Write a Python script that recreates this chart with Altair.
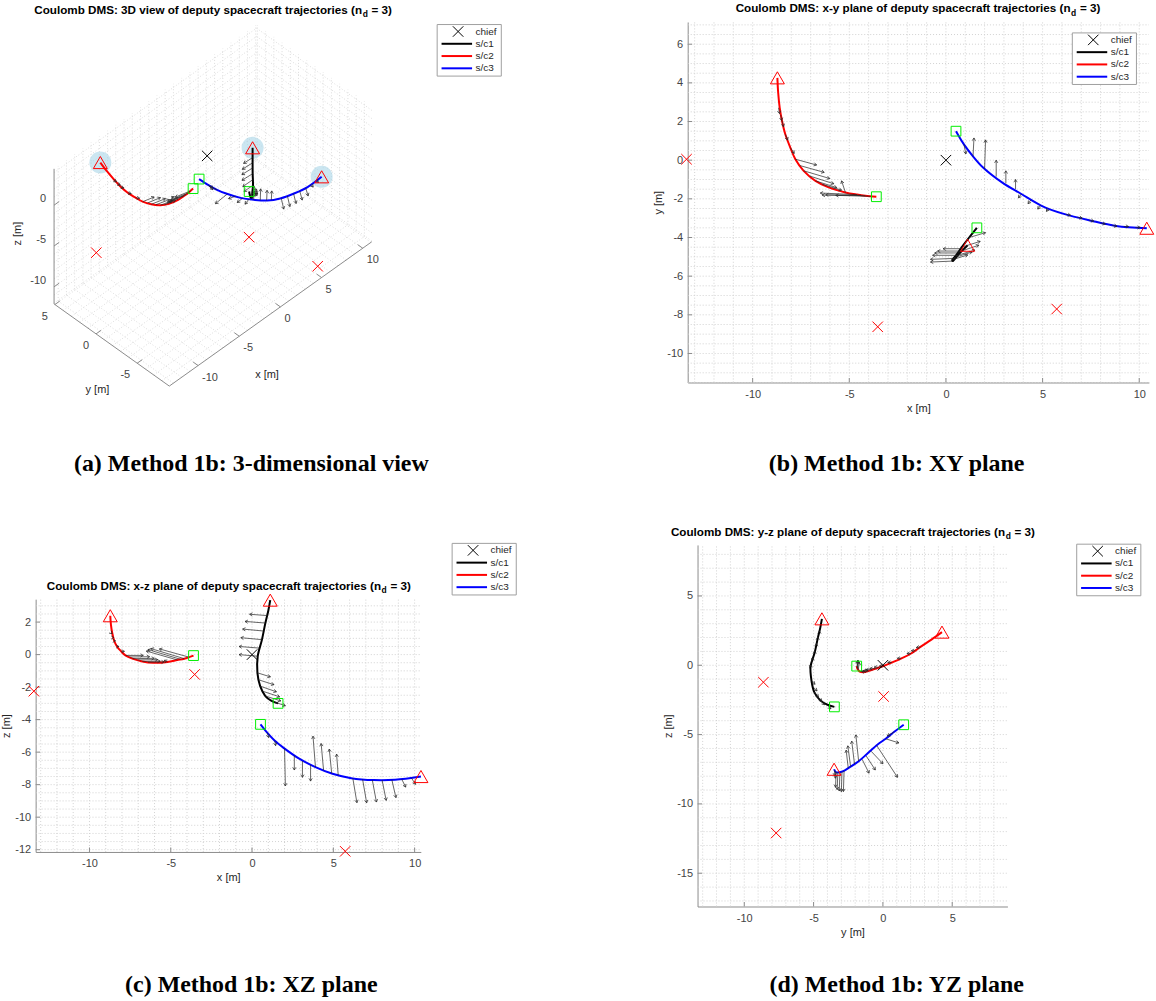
import math
import altair as alt
import pandas as pd

SANS = "Liberation Sans"
SERIF = "Liberation Serif"
INK = "#262626"
LABEL_INK = "#444444"
AXIS_INK = "#8c8c8c"
GRID_INK = "#d2d2d2"
GRID3_INK = "#dcdcdc"
ARROW_INK = "#262626"

# ---------------------------------------------------------------- data
SC_NAMES = ["s/c1", "s/c2", "s/c3"]
SC_COLORS = ["#000000", "#ff0000", "#0000ff"]

# deputy trajectories [m]: initial position first, final position last
SC1_X = [1.60, 1.20, 0.82, 0.50, 0.33, 0.35, 0.61, 0.82, 1.00, 1.12]
SC1_Y = [-3.50, -4.00, -4.50, -4.95, -5.15, -5.22, -4.92, -4.70, -4.52, -4.40]
SC1_Z = [-3.00, -2.85, -2.55, -1.94, -1.12, -0.10, 0.92, 1.94, 2.70, 3.35]

SC2_X = [-3.60, -4.17, -4.60, -5.20, -6.07, -6.75, -7.36, -7.79, -8.05, -8.31, -8.48, -8.60, -8.68, -8.72]
SC2_Y = [-1.89, -1.84, -1.78, -1.67, -1.41, -1.07, -0.55, 0.05, 0.65, 1.34, 2.03, 2.71, 3.50, 4.26]
SC2_Z = [-0.06, -0.25, -0.33, -0.45, -0.50, -0.42, -0.25, -0.05, 0.20, 0.50, 0.85, 1.33, 1.85, 2.39]

SC3_X = [0.52, 0.93, 1.40, 1.92, 2.90, 3.90, 4.95, 6.10, 7.50, 8.80, 10.39]
SC3_Y = [1.50, 0.82, 0.20, -0.38, -1.15, -1.75, -2.36, -2.78, -3.13, -3.40, -3.52]
SC3_Z = [-4.29, -4.80, -5.30, -5.72, -6.40, -6.92, -7.33, -7.60, -7.72, -7.70, -7.50]

# target positions (red crosses) and the chief at the origin [m]
TGT_X = [-13.42, -3.53, 5.73]
TGT_Y = [0.05, -8.62, -7.70]
TGT_Z = [-2.25, -1.22, -12.10]
CHIEF_X, CHIEF_Y, CHIEF_Z = [0.0], [0.0], [0.0]

# control quiver: deputy index, base point and vector [m]
Q_SC = [0] * 12 + [1] * 16 + [2] * 17
Q_X = [0.35, 0.45, 0.61, 0.72, 0.82, 0.95, 0.33, 0.40, 0.50, 0.65, 0.82, 1.20,
       -8.66, -8.55, -8.48, -8.31, -8.05, -7.79, -7.55, -7.36, -7.05, -6.75, -6.40, -5.20, -4.60, -4.40, -4.17, -3.90,
       0.93, 1.40, 2.00, 2.60, 3.10, 3.60, 3.90, 4.40, 4.90, 5.30, 6.20, 6.80, 7.40, 8.00, 8.60, 9.20, 9.80]
Q_Y = [-5.22, -5.08, -4.92, -4.80, -4.70, -4.58, -5.15, -5.05, -4.95, -4.75, -4.50, -4.00,
       2.71, 2.35, 2.03, 1.34, 0.65, 0.05, -0.28, -0.55, -0.82, -1.07, -1.25, -1.67, -1.78, -1.81, -1.84, -1.87,
       0.82, 0.20, -0.45, -0.85, -1.20, -1.50, -1.75, -2.05, -2.33, -2.50, -2.80, -2.95, -3.10, -3.25, -3.37, -3.43, -3.48]
Q_Z = [-0.10, 0.40, 0.92, 1.45, 1.94, 2.40, -1.12, -1.55, -1.94, -2.25, -2.55, -2.85,
       1.33, 1.05, 0.85, 0.50, 0.20, -0.05, -0.15, -0.25, -0.33, -0.42, -0.47, -0.45, -0.33, -0.29, -0.25, -0.15,
       -4.80, -5.30, -5.78, -6.20, -6.55, -6.78, -6.92, -7.12, -7.31, -7.42, -7.61, -7.67, -7.72, -7.72, -7.70, -7.65, -7.58]
Q_DX = [-1.15, -1.25, -1.30, -1.30, -1.25, -1.10, 0.80, 0.95, 1.00, 1.05, 0.95, 0.85,
        0.05, 0.05, 0.08, 0.12, 0.20, 1.10, 1.25, 1.35, 1.25, 1.10, 1.00, -0.20, -1.90, -2.00, -2.05, -1.80,
        0.10, 0.05, 0.05, 0.00, 0.00, 0.00, -0.15, -0.15, -0.15, -0.10, 0.25, 0.25, 0.25, 0.25, 0.25, 0.25, 0.25]
Q_DY = [-0.05, -0.05, 0.00, 0.00, 0.00, 0.00, 0.25, 0.30, 0.30, 0.35, 0.30, 0.25,
        -0.30, -0.30, -0.30, -0.30, -0.30, -0.30, -0.35, -0.40, -0.40, -0.35, -0.30, 0.60, 0.08, 0.00, 0.05, 0.05,
        -0.50, 0.95, 1.50, 0.85, 0.65, 0.50, -0.20, -0.20, -0.20, -0.15, -0.05, -0.05, -0.05, -0.05, -0.05, 0.00, 0.00]
Q_DZ = [0.10, 0.10, 0.12, 0.12, 0.10, 0.08, -0.25, -0.30, -0.35, -0.35, -0.30, -0.30,
        -0.05, 0.00, 0.00, 0.00, 0.00, 0.00, 0.02, 0.02, 0.02, 0.02, 0.02, 0.10, 0.55, 0.60, 0.62, 0.50,
        -0.30, -0.30, -2.30, -0.90, -1.00, -1.00, 1.90, 1.65, 1.50, 1.30, -1.50, -1.45, -1.35, -1.25, -1.10, -0.50, -0.40]

# 3-D view box limits and tick values [m]
BOX_X = (-13.5, 11.1)
BOX_Y = (-8.9, 5.1)
BOX_Z = (-12.1, 4.45)
X3_TICKS = [-10, -5, 0, 5, 10]
Y3_TICKS = [-5, 0, 5]
Z3_TICKS = [-10, -5, 0]

LEGEND_LABELS = ["chief"] + SC_NAMES

# ---------------------------------------------------------------- tables
rows = []
for name, xs, ys, zs in zip(SC_NAMES, [SC1_X, SC2_X, SC3_X], [SC1_Y, SC2_Y, SC3_Y], [SC1_Z, SC2_Z, SC3_Z]):
    for i, (x, y, z) in enumerate(zip(xs, ys, zs)):
        rows.append({"sc": name, "i": i, "x": x, "y": y, "z": z})
traj = pd.DataFrame(rows)
starts = traj.groupby("sc").head(1).reset_index(drop=True)
ends = traj.groupby("sc").tail(1).reset_index(drop=True)
targets = pd.DataFrame({"x": TGT_X, "y": TGT_Y, "z": TGT_Z})
chief = pd.DataFrame({"x": CHIEF_X, "y": CHIEF_Y, "z": CHIEF_Z})
quiv = pd.DataFrame({"sc": [SC_NAMES[k] for k in Q_SC], "x": Q_X, "y": Q_Y, "z": Q_Z,
                     "dx": Q_DX, "dy": Q_DY, "dz": Q_DZ})
one = pd.DataFrame({"k": [0]})

SC_SCALE = alt.Scale(domain=SC_NAMES, range=SC_COLORS)
X_PATH = "M-1,-1L1,1M1,-1L-1,1"
HEAD_PATH = "M-0.6,1L0,0L0.6,1"
MINUS = "\u2212"
TICK_PX = 4.5   # inward tick length


def steps(lo, hi, step):
    k0, k1 = math.ceil(lo / step - 1e-9), math.floor(hi / step + 1e-9)
    return [round(k * step, 6) for k in range(k0, k1 + 1)]


# ---------------------------------------------------------------- shared decorations
LEG_ROWS = [7.0, 19.3, 31.6, 43.9]


def legend_layers(x0, y0):
    out = [alt.Chart(one).mark_rect(fill="white", stroke="#a0a0a0", strokeWidth=1).encode(
        x=alt.value(x0), x2=alt.value(x0 + 64.3), y=alt.value(y0), y2=alt.value(y0 + 51.7))]
    out.append(alt.Chart(one).mark_point(shape=X_PATH, size=110, color="#000000", strokeWidth=1,
                                         opacity=1).encode(x=alt.value(x0 + 21), y=alt.value(y0 + LEG_ROWS[0])))
    for col, ry in zip(SC_COLORS, LEG_ROWS[1:]):
        out.append(alt.Chart(one).mark_rule(color=col, strokeWidth=2).encode(
            x=alt.value(x0 + 4.4), x2=alt.value(x0 + 35), y=alt.value(y0 + ry)))
    for label, ry in zip(LEGEND_LABELS, LEG_ROWS):
        out.append(alt.Chart(one).mark_text(text=label, align="left", baseline="middle", font=SANS,
                                            fontSize=10, color=INK).encode(
            x=alt.value(x0 + 38.5), y=alt.value(y0 + ry)))
    return out


def title_layers(prefix, ax, base):
    style = dict(baseline="alphabetic", font=SANS, fontWeight="bold", color="#000000")
    return [
        alt.Chart(one).mark_text(text=prefix + " (n", align="right", fontSize=11.7, **style).encode(
            x=alt.value(ax), y=alt.value(base)),
        alt.Chart(one).mark_text(text="d", align="left", fontSize=8.5, **style).encode(
            x=alt.value(ax + 0.6), y=alt.value(base + 3.5)),
        alt.Chart(one).mark_text(text="= 3)", align="left", fontSize=11.7, **style).encode(
            x=alt.value(ax + 9.5), y=alt.value(base)),
    ]


def caption_layer(text, cx, cy):
    return alt.Chart(one).mark_text(text=text, align="center", baseline="alphabetic", font=SERIF,
                                    fontSize=24, fontWeight="bold", color="#000000").encode(
        x=alt.value(cx), y=alt.value(cy))


# ---------------------------------------------------------------- planar views
def plane_panel(h, v, hdom, vdom, h0px, v0px, k, size, hticks, vticks, hstep, vstep,
                htitle, vtitle, head, title_at, legend_at, caption, caption_at):
    tile_w, tile_h = size
    hpx = [h0px + k * hdom[0], h0px + k * hdom[1]]
    vpx = [v0px - k * vdom[0], v0px - k * vdom[1]]
    hs = alt.Scale(domain=list(hdom), range=hpx, nice=False, zero=False)
    vs = alt.Scale(domain=list(vdom), range=vpx, nice=False, zero=False)
    common = dict(grid=False, ticks=False, domainColor=AXIS_INK, domainWidth=1,
                  labelColor=LABEL_INK, labelFont=SANS, labelFontSize=11, labelFlush=False,
                  labelOverlap=False, titleColor=INK, titleFont=SANS, titleFontSize=11,
                  titleFontWeight="normal", labelExpr=f"replace(datum.label, '{MINUS}', '-')")
    hax = alt.Axis(title=htitle, values=hticks, offset=vpx[0] - tile_h, labelPadding=6,
                   titlePadding=3, **common)
    vax = alt.Axis(title=vtitle, values=vticks, offset=-hpx[0], labelPadding=5,
                   titlePadding=3, **common)

    # every positional layer carries the same axis definition so the layers share one axis
    def H(f):
        return alt.X(f, type="quantitative", scale=hs, axis=hax)

    def V(f):
        return alt.Y(f, type="quantitative", scale=vs, axis=vax)

    gv = pd.DataFrame({"p": steps(hdom[0], hdom[1], hstep)})
    gv["lo"], gv["hi"] = vdom[0], vdom[1]
    gh = pd.DataFrame({"p": steps(vdom[0], vdom[1], vstep)})
    gh["lo"], gh["hi"] = hdom[0], hdom[1]
    grid_style = dict(color=GRID_INK, strokeDash=[1, 2], strokeWidth=1)

    # short inward tick marks along the two axis lines
    th = pd.DataFrame({"p": hticks})
    th["lo"], th["hi"] = vdom[0], vdom[0] + TICK_PX / k
    tv = pd.DataFrame({"p": vticks})
    tv["lo"], tv["hi"] = hdom[0], hdom[0] + TICK_PX / k

    layers = [
        alt.Chart(gv).mark_rule(**grid_style).encode(x=H("p"), y=V("lo"), y2="hi"),
        alt.Chart(gh).mark_rule(**grid_style).encode(y=V("p"), x=H("lo"), x2="hi"),
        alt.Chart(th).mark_rule(color=AXIS_INK, strokeWidth=1).encode(x=H("p"), y=V("lo"), y2="hi"),
        alt.Chart(tv).mark_rule(color=AXIS_INK, strokeWidth=1).encode(y=V("p"), x=H("lo"), x2="hi"),
        alt.Chart(traj).mark_line(strokeWidth=2, interpolate="catmull-rom").encode(
            x=H(h), y=V(v), color=alt.Color("sc:N", scale=SC_SCALE, legend=None), order="i:Q"),
    ]
    qv = alt.Chart(quiv).transform_calculate(
        th=f"datum.{h} + datum.d{h}", tv=f"datum.{v} + datum.d{v}",
        ang=f"(atan2(datum.d{h}, datum.d{v}) * 180 / PI + 360) % 360")
    layers += [
        qv.mark_rule(color=ARROW_INK, strokeWidth=0.7).encode(x=H(h), y=V(v), x2="th", y2="tv"),
        qv.mark_point(shape=HEAD_PATH, size=30, color=ARROW_INK, strokeWidth=0.7, opacity=1).encode(
            x=H("th"), y=V("tv"), angle=alt.Angle("ang:Q", scale=None)),
        alt.Chart(ends).mark_point(shape="triangle-up", size=196, color="#ff0000", strokeWidth=1,
                                   opacity=1).encode(x=H(h), y=V(v)),
        alt.Chart(starts).mark_point(shape="square", size=96, color="#00ee00", strokeWidth=1,
                                     opacity=1).encode(x=H(h), y=V(v)),
        alt.Chart(targets).mark_point(shape=X_PATH, size=110, color="#ff0000", strokeWidth=1,
                                      opacity=1).encode(x=H(h), y=V(v)),
        alt.Chart(chief).mark_point(shape=X_PATH, size=110, color="#000000", strokeWidth=1,
                                    opacity=1).encode(x=H(h), y=V(v)),
    ]
    layers += legend_layers(*legend_at)
    layers += title_layers(head, *title_at)
    layers.append(caption_layer(caption, *caption_at))
    return alt.layer(*layers).properties(width=tile_w, height=tile_h)


# ---------------------------------------------------------------- 3-D view
AZ, EL = -45.0, 45.46
CA, SA = math.cos(math.radians(AZ)), math.sin(math.radians(AZ))
SE, CE = math.sin(math.radians(EL)), math.cos(math.radians(EL))
K3 = 11.67             # pixels per metre in the projected view
O3 = (206.7, 155.0)    # where the origin sits in the panel


def proj(xf, yf, zf):
    u = f"({xf})*{CA:.6f} + ({yf})*{SA:.6f}"
    w = f"(-({xf})*{SA:.6f} + ({yf})*{CA:.6f})*{SE:.6f} + ({zf})*{CE:.6f}"
    return u, w


def box_grid():
    (x0, x1), (y0, y1), (z0, z1) = BOX_X, BOX_Y, BOX_Z
    segs = []
    for xv in steps(x0, x1, 1):
        segs.append((xv, y0, z0, xv, y1, z0))
        segs.append((xv, y1, z0, xv, y1, z1))
    for yv in steps(y0, y1, 1):
        segs.append((x0, yv, z0, x1, yv, z0))
        segs.append((x1, yv, z0, x1, yv, z1))
    for zv in steps(z0, z1, 1):
        segs.append((x0, y1, zv, x1, y1, zv))
        segs.append((x1, y0, zv, x1, y1, zv))
    return pd.DataFrame(segs, columns=["x0", "y0", "z0", "x1", "y1", "z1"])


def box_axes():
    (x0, x1), (y0, y1), (z0, z1) = BOX_X, BOX_Y, BOX_Z
    segs = [(x0, y0, z0, x1, y0, z0), (x0, y0, z0, x0, y1, z0), (x0, y1, z0, x0, y1, z1)]
    for t in X3_TICKS:
        segs.append((t, y0, z0, t, y0 + 0.6, z0))
    for t in Y3_TICKS:
        segs.append((x0, t, z0, x0 + 0.6, t, z0))
    for t in Z3_TICKS:
        segs.append((x0, y1, t, x0 + 0.6, y1, t))
    return pd.DataFrame(segs, columns=["x0", "y0", "z0", "x1", "y1", "z1"])


def panel_3d():
    W, H = 580, 500
    us = alt.Scale(domain=[-O3[0] / K3, (W - O3[0]) / K3], range=[0, W], nice=False, zero=False)
    ws = alt.Scale(domain=[(O3[1] - H) / K3, O3[1] / K3], range=[H, 0], nice=False, zero=False)

    def U(f):
        return alt.X(f, type="quantitative", scale=us, axis=None)

    def Wv(f):
        return alt.Y(f, type="quantitative", scale=ws, axis=None)

    pu, pw = proj("datum.x", "datum.y", "datum.z")
    su0, sw0 = proj("datum.x0", "datum.y0", "datum.z0")
    su1, sw1 = proj("datum.x1", "datum.y1", "datum.z1")
    tu, tw = proj("datum.x + datum.dx", "datum.y + datum.dy", "datum.z + datum.dz")

    def seg(df):
        return alt.Chart(df).transform_calculate(u0=su0, w0=sw0, u1=su1, w1=sw1)

    def pts(df):
        return alt.Chart(df).transform_calculate(u=pu, w=pw)

    layers = [
        seg(box_grid()).mark_rule(color=GRID3_INK, strokeDash=[1, 2], strokeWidth=1).encode(
            x=U("u0"), y=Wv("w0"), x2="u1", y2="w1"),
        seg(box_axes()).mark_rule(color=AXIS_INK, strokeWidth=1).encode(
            x=U("u0"), y=Wv("w0"), x2="u1", y2="w1"),
    ]
    lab = dict(font=SANS, fontSize=11, color=LABEL_INK, baseline="middle")
    xl = pd.DataFrame({"x": X3_TICKS, "y": BOX_Y[0], "z": BOX_Z[0], "t": [str(t) for t in X3_TICKS]})
    yl = pd.DataFrame({"x": BOX_X[0], "y": Y3_TICKS, "z": BOX_Z[0], "t": [str(t) for t in Y3_TICKS]})
    zl = pd.DataFrame({"x": BOX_X[0], "y": BOX_Y[1], "z": Z3_TICKS, "t": [str(t) for t in Z3_TICKS]})
    layers += [
        pts(xl).mark_text(align="left", dx=4, dy=12, **lab).encode(x=U("u"), y=Wv("w"), text="t:N"),
        pts(yl).mark_text(align="right", dx=-7, dy=12, **lab).encode(x=U("u"), y=Wv("w"), text="t:N"),
        pts(zl).mark_text(align="right", dx=-8, dy=-6, **lab).encode(x=U("u"), y=Wv("w"), text="t:N"),
    ]
    at = dict(font=SANS, fontSize=11, color=INK, baseline="middle", align="center")
    layers += [
        alt.Chart(one).mark_text(text="x [m]", **at).encode(x=alt.value(266.7), y=alt.value(375)),
        alt.Chart(one).mark_text(text="y [m]", **at).encode(x=alt.value(96.7), y=alt.value(390)),
        alt.Chart(one).mark_text(text="z [m]", angle=270, **at).encode(x=alt.value(16.7), y=alt.value(233)),
    ]
    layers += [
        pts(ends).mark_point(shape="circle", size=484, fill="#a8d5e8", filled=True, opacity=0.6,
                             strokeWidth=0).encode(x=U("u"), y=Wv("w")),
        pts(traj).mark_line(strokeWidth=2, interpolate="catmull-rom").encode(
            x=U("u"), y=Wv("w"), color=alt.Color("sc:N", scale=SC_SCALE, legend=None), order="i:Q"),
    ]
    qv = alt.Chart(quiv).transform_calculate(u=pu, w=pw, tu=tu, tw=tw).transform_calculate(
        ang="(atan2(datum.tu - datum.u, datum.tw - datum.w) * 180 / PI + 360) % 360")
    layers += [
        qv.mark_rule(color=ARROW_INK, strokeWidth=0.7).encode(x=U("u"), y=Wv("w"), x2="tu", y2="tw"),
        qv.mark_point(shape=HEAD_PATH, size=30, color=ARROW_INK, strokeWidth=0.7, opacity=1).encode(
            x=U("tu"), y=Wv("tw"), angle=alt.Angle("ang:Q", scale=None)),
        pts(ends).mark_point(shape="triangle-up", size=196, color="#ff0000", strokeWidth=1,
                             opacity=1).encode(x=U("u"), y=Wv("w")),
        pts(starts).mark_point(shape="square", size=96, color="#00ee00", strokeWidth=1,
                               opacity=1).encode(x=U("u"), y=Wv("w")),
        pts(targets).mark_point(shape=X_PATH, size=110, color="#ff0000", strokeWidth=1,
                                opacity=1).encode(x=U("u"), y=Wv("w")),
        pts(chief).mark_point(shape=X_PATH, size=110, color="#000000", strokeWidth=1,
                              opacity=1).encode(x=U("u"), y=Wv("w")),
    ]
    layers += legend_layers(437.3, 23.3)
    layers += title_layers("Coulomb DMS: 3D view of deputy spacecraft trajectories", 362.0, 12.5)
    layers.append(caption_layer("(a) Method 1b: 3-dimensional view", 251, 471))
    return alt.layer(*layers).properties(width=W, height=H)


# ---------------------------------------------------------------- assemble
pa = panel_3d()
pb = plane_panel("x", "y", (-13.36, 10.5), (-11.5, 7.15), 367.4, 159.3, 19.38, (576, 500),
                 [-10, -5, 0, 5, 10], list(range(-10, 7, 2)), 1, 0.5, "x [m]", "y [m]",
                 "Coulomb DMS: x-y plane of deputy spacecraft trajectories", (492.3, 11.0),
                 (494.1, 31.7), "(b) Method 1b: XY plane", (318, 471))
pc = plane_panel("x", "z", (-13.31, 10.38), (-12.14, 3.41), 251.7, 155.0, 16.3, (580, 501),
                 [-10, -5, 0, 5, 10], list(range(-12, 3, 2)), 1, 0.5, "x [m]", "z [m]",
                 "Coulomb DMS: x-z plane of deputy spacecraft trajectories", (381.0, 90.0),
                 (452.3, 43.5), "(c) Method 1b: XZ plane", (251, 493))
pd_ = plane_panel("y", "z", (-13.37, 8.98), (-17.4, 8.68), 304.2, 165.7, 13.9, (576, 501),
                  [-10, -5, 0, 5], [-15, -10, -5, 0, 5], 1, 1, "y [m]", "z [m]",
                  "Coulomb DMS: y-z plane of deputy spacecraft trajectories", (426.7, 36.0),
                  (498.5, 44.3), "(d) Method 1b: YZ plane", (318, 493))

chart = (
    alt.concat(pa, pb, pc, pd_, columns=2, spacing=0, bounds="flush", align="each")
    .properties(padding=0, background="white")
    .configure(font=SANS)
    .configure_view(stroke=None)
)

chart.save("out.html", embed_options={"renderer": "svg", "actions": False})
